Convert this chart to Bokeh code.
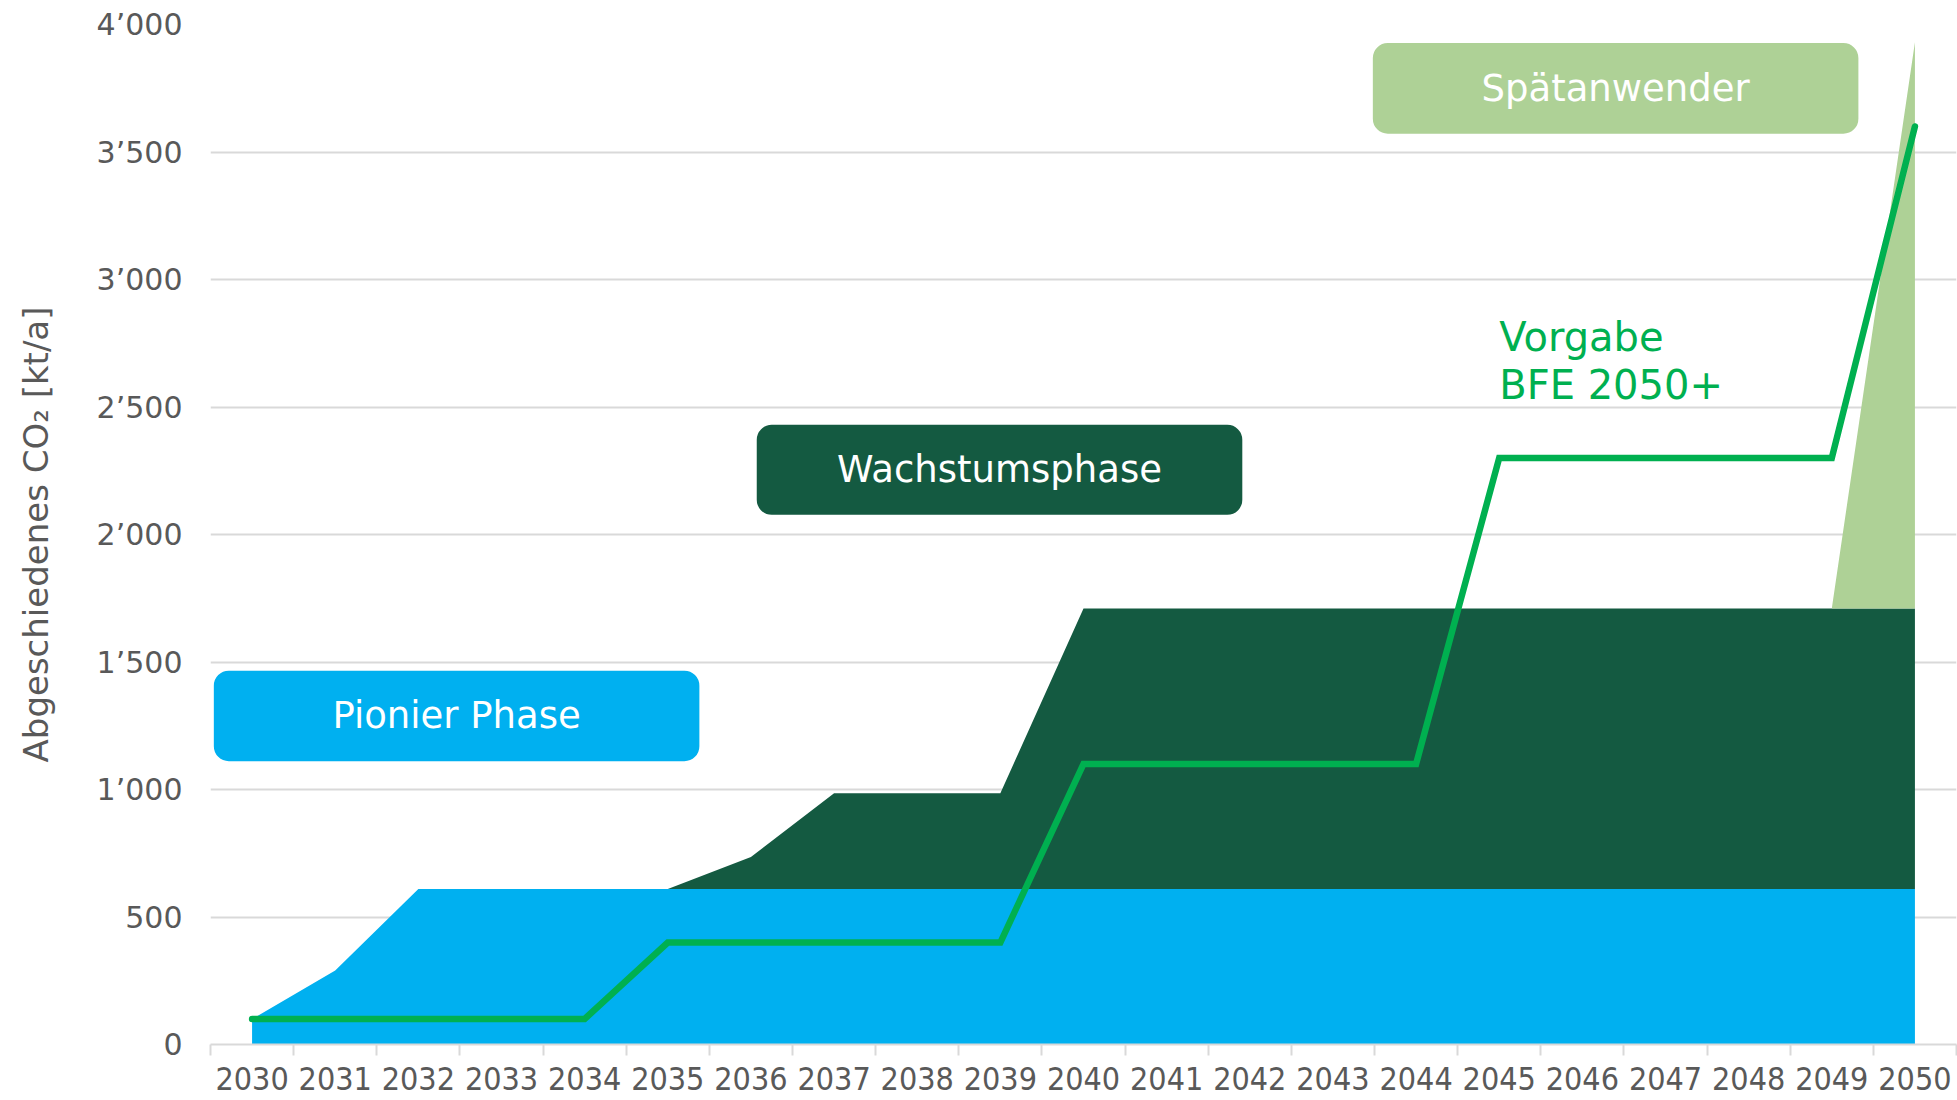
from bokeh.plotting import figure
from bokeh.models import Range1d, FixedTicker
from bokeh.core.properties import value
from bokeh.embed import file_html
from bokeh.resources import INLINE

# ---- data ----
years = list(range(2030, 2051))
pionier = [100, 290] + [610] * 19
wachstum = [0] * 6 + [125, 375, 375, 375] + [1100] * 11
spaetanwender = [0] * 20 + [2220]
vorgabe = [100] * 5 + [400] * 5 + [1100] * 5 + [2300] * 5 + [3600]

y_ticks = [0, 500, 1000, 1500, 2000, 2500, 3000, 3500, 4000]
y_tick_labels = ["0", "500", "1\u2019000", "1\u2019500", "2\u2019000",
                 "2\u2019500", "3\u2019000", "3\u2019500", "4\u2019000"]
x_tick_labels = [str(y) for y in years]

phase_labels = ["Pionier Phase", "Wachstumsphase", "Sp\u00e4tanwender"]
vorgabe_label = ["Vorgabe", "BFE 2050+"]

# ---- annotation layout (data coordinates) ----
box_left = [2029.54, 2036.07, 2043.48]
box_right = [2035.38, 2041.91, 2049.32]
box_bottom = [1111, 2077, 3572]
box_top = [1466, 2430, 3927]
box_colors = ["#00B0F0", "#145A41", "#AED196"]
vorgabe_x = [2045.0, 2045.0]
vorgabe_y = [2774, 2586]

C_BLUE = "#00B0F0"
C_DARK = "#145A41"
C_LIGHT = "#AED196"
C_LINE = "#00B050"
C_TEXT = "#595959"
C_GRID = "#D9D9D9"
FONT = "DejaVu Sans"

s1 = pionier
s2 = [a + b for a, b in zip(s1, wachstum)]
s3 = [a + b for a, b in zip(s2, spaetanwender)]

p = figure(width=1957, height=1096,
           x_range=Range1d(2029.5, 2050.5), y_range=Range1d(0, 4000),
           output_backend="svg", toolbar_location=None,
           min_border_left=210, min_border_right=1,
           min_border_top=24, min_border_bottom=52)
p.outline_line_color = None
p.background_fill_color = "white"

p.varea(x=years, y1=[0] * len(years), y2=s1, fill_color=C_BLUE)
p.varea(x=years, y1=s1, y2=s2, fill_color=C_DARK)
p.varea(x=years, y1=s2, y2=s3, fill_color=C_LIGHT)
p.line(x=years, y=vorgabe, line_color=C_LINE, line_width=6.5,
       line_join="miter", line_cap="round")

# phase boxes
p.quad(left=box_left, right=box_right, bottom=box_bottom, top=box_top,
       fill_color=box_colors, line_color=None, border_radius=15)
cx = [(l + r) / 2 for l, r in zip(box_left, box_right)]
cy = [(b + t) / 2 for b, t in zip(box_bottom, box_top)]
p.text(x=cx, y=cy, text=phase_labels, text_color="white",
       text_font=value(FONT), text_font_size="37px",
       text_align="center", text_baseline="middle")

p.text(x=vorgabe_x, y=vorgabe_y, text=vorgabe_label,
       text_color=C_LINE, text_font=value(FONT), text_font_size="40px",
       text_align="left", text_baseline="alphabetic")

# grid
p.xgrid.visible = False
p.ygrid.ticker = FixedTicker(ticks=y_ticks)
p.ygrid.grid_line_color = C_GRID
p.ygrid.grid_line_width = 2

# y axis
ya = p.yaxis[0]
ya.ticker = FixedTicker(ticks=y_ticks)
ya.major_label_overrides = dict(zip(y_ticks, y_tick_labels))
ya.axis_line_color = None
ya.major_tick_line_color = None
ya.minor_tick_line_color = None
ya.major_tick_out = 0
ya.major_label_standoff = 28
ya.major_label_text_font = FONT
ya.major_label_text_font_size = "30px"
ya.major_label_text_color = C_TEXT
ya.axis_label = "Abgeschiedenes CO\u2082 [kt/a]"
ya.axis_label_text_font = FONT
ya.axis_label_text_font_size = "34px"
ya.axis_label_text_font_style = "normal"
ya.axis_label_text_color = C_TEXT
ya.axis_label_standoff = 38

# x axis
xa = p.xaxis[0]
xa.ticker = FixedTicker(ticks=years, minor_ticks=[y - 0.5 for y in years] + [2050.5])
xa.major_label_overrides = dict(zip(years, x_tick_labels))
xa.major_tick_line_color = None
xa.major_tick_out = 0
xa.major_tick_in = 0
xa.minor_tick_in = 0
xa.minor_tick_out = 11
xa.minor_tick_line_color = C_GRID
xa.minor_tick_line_width = 2
xa.axis_line_color = C_GRID
xa.axis_line_width = 2
xa.major_label_standoff = 11
xa.major_label_text_font = "DejaVu Sans Condensed"
xa.major_label_text_font_size = "32px"
xa.major_label_text_color = C_TEXT

open("out.html", "w").write(file_html(p, INLINE))
